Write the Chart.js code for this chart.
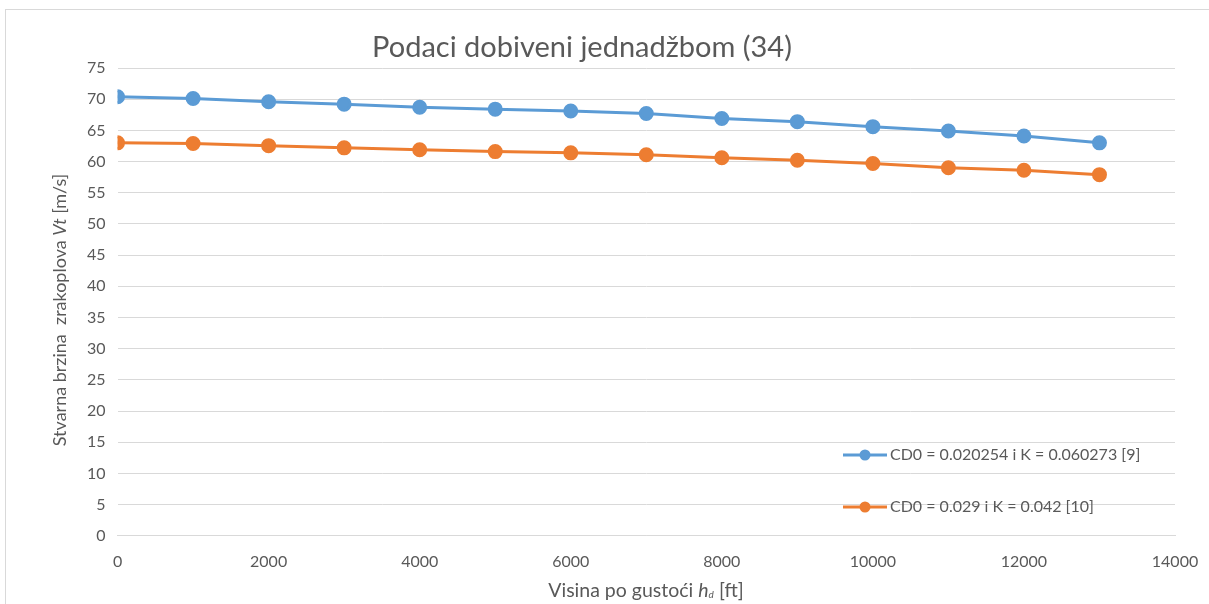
<!DOCTYPE html>
<html>
<head>
<meta charset="utf-8">
<script src="https://cdn.jsdelivr.net/npm/chart.js@4"></script>
<style>
  html, body { margin: 0; padding: 0; background: #fff; }
  #wrap { width: 1209px; height: 604px; position: relative; }
</style>
</head>
<body>
<div id="wrap"><canvas id="chart" width="1209" height="604"></canvas></div>
<script>
// Visina po gustoci [ft]
const altitudes = [0, 1000, 2000, 3000, 4000, 5000, 6000, 7000, 8000, 9000, 10000, 11000, 12000, 13000];

// Vt [m/s] for the two parameter sets
const vtRef9 = [70.4, 70.1, 69.6, 69.2, 68.7, 68.4, 68.1, 67.7, 66.9, 66.4, 65.6, 64.9, 64.1, 63.0];
const vtRef10 = [63.0, 62.9, 62.55, 62.2, 61.9, 61.6, 61.4, 61.1, 60.6, 60.2, 59.7, 59.0, 58.6, 57.9];

const seriesLabels = ['CD0 = 0.020254 i K = 0.060273 [9]', 'CD0 = 0.029 i K = 0.042 [10]'];
const seriesColors = ['#5b9bd5', '#ed7d31'];
const chartTitle = 'Podaci dobiveni jednadžbom (34)';

const FONT = 'Lato, "Open Sans", sans-serif';
const TEXT = '#595959';

const toPoints = (vals) => vals.map((v, i) => ({ x: altitudes[i], y: v }));

// frame, title, axis titles with mixed styles, and the legend inside the plot
const extras = {
  id: 'extras',
  beforeDraw(chart) {
    const ctx = chart.ctx;
    ctx.save();
    ctx.strokeStyle = '#d9d9d9';
    ctx.lineWidth = 1;
    ctx.strokeRect(5.5, 9.5, 1220, 620);
    ctx.restore();
  },
  afterDraw(chart) {
    const ctx = chart.ctx;
    ctx.save();
    ctx.fillStyle = TEXT;
    ctx.textBaseline = 'middle';

    // title
    ctx.textAlign = 'center';
    ctx.font = '29px ' + FONT;
    ctx.fillText(chartTitle, 582, 48);

    // x axis title: Visina po gustoći h_d [ft]
    const parts = [
      ['Visina po gustoći ', '19.5px ' + FONT, 0],
      ['h', 'italic 19.5px ' + FONT, 0],
      ['d', 'italic 10px ' + FONT, 4],
      [' [ft]', '19.5px ' + FONT, 0]
    ];
    let w = 0;
    parts.forEach(p => { ctx.font = p[1]; w += ctx.measureText(p[0]).width; });
    let x = 646 - w / 2;
    ctx.textAlign = 'left';
    parts.forEach(p => {
      ctx.font = p[1];
      ctx.fillText(p[0], x, 591 + p[2]);
      x += ctx.measureText(p[0]).width;
    });

    // y axis title, rotated
    const yParts = [
      ['Stvarna brzina  zrakoplova ', '18px ' + FONT],
      ['Vt', 'italic 18px ' + FONT],
      [' [m/s]', '18px ' + FONT]
    ];
    w = 0;
    yParts.forEach(p => { ctx.font = p[1]; w += ctx.measureText(p[0]).width; });
    ctx.translate(60, 310);
    ctx.rotate(-Math.PI / 2);
    x = -w / 2;
    yParts.forEach(p => {
      ctx.font = p[1];
      ctx.fillText(p[0], x, 0);
      x += ctx.measureText(p[0]).width;
    });
    ctx.setTransform(1, 0, 0, 1, 0, 0);

    // legend
    const legendY = [455, 507];
    seriesLabels.forEach((lbl, i) => {
      const y = legendY[i];
      ctx.strokeStyle = seriesColors[i];
      ctx.lineWidth = 3;
      ctx.beginPath();
      ctx.moveTo(843, y);
      ctx.lineTo(887, y);
      ctx.stroke();
      ctx.fillStyle = seriesColors[i];
      ctx.beginPath();
      ctx.arc(865, y, 5.5, 0, Math.PI * 2);
      ctx.fill();
      ctx.fillStyle = TEXT;
      ctx.font = '16px ' + FONT;
      ctx.fillText(lbl, 890, y);
    });
    ctx.restore();
  }
};

new Chart(document.getElementById('chart'), {
  type: 'line',
  data: {
    datasets: [
      {
        label: seriesLabels[0],
        data: toPoints(vtRef9),
        borderColor: seriesColors[0],
        backgroundColor: seriesColors[0],
        borderWidth: 3,
        pointRadius: 6,
        pointHoverRadius: 6
      },
      {
        label: seriesLabels[1],
        data: toPoints(vtRef10),
        borderColor: seriesColors[1],
        backgroundColor: seriesColors[1],
        borderWidth: 3,
        pointRadius: 6,
        pointHoverRadius: 6
      }
    ]
  },
  plugins: [extras],
  options: {
    responsive: false,
    animation: false,
    layout: { padding: { left: 75, right: 34, top: 68, bottom: 17 } },
    plugins: {
      legend: { display: false },
      tooltip: { enabled: false },
      title: { display: false }
    },
    scales: {
      x: {
        type: 'linear',
        min: 0,
        max: 14000,
        afterFit: (scale) => { scale.paddingRight = 0; scale.paddingLeft = 0; },
        ticks: {
          stepSize: 2000,
          color: TEXT,
          font: { family: FONT, size: 16 },
          padding: 16,
          callback: (v) => String(v)
        },
        grid: { display: false, drawTicks: false },
        border: { display: true, color: '#d9d9d9' }
      },
      y: {
        min: 0,
        max: 75,
        ticks: { stepSize: 5, color: TEXT, font: { family: FONT, size: 16 }, padding: 12 },
        grid: { color: '#d9d9d9', drawTicks: false },
        border: { display: false }
      }
    }
  }
});
</script>
</body>
</html>
